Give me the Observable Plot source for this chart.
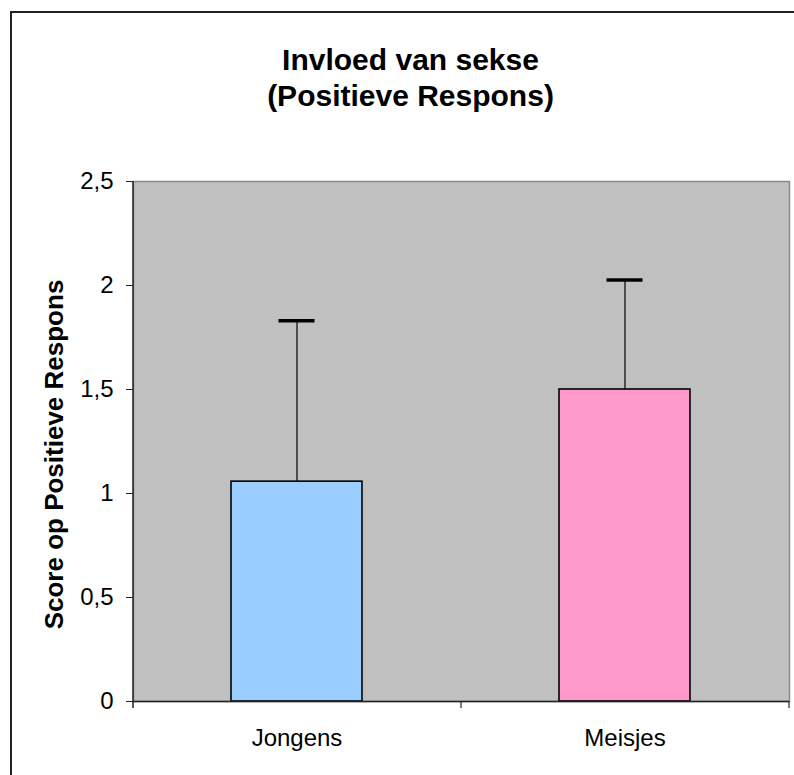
<!DOCTYPE html>
<html>
<head>
<meta charset="utf-8">
<script src="https://cdn.jsdelivr.net/npm/d3@7"></script>
<script src="https://cdn.jsdelivr.net/npm/@observablehq/plot@0.6"></script>
<style>
  html, body { margin: 0; padding: 0; background: #fff; overflow: hidden; }
  #wrap { position: relative; width: 794px; height: 775px; overflow: hidden; }
  #border { position: absolute; left: 10px; top: 11px; width: 900px; height: 900px; border: 2px solid #222; box-sizing: border-box; }
  #chart { position: absolute; left: 0; top: 0; }
  svg { font-family: "Liberation Sans", Arial, sans-serif; }
</style>
</head>
<body>
<div id="wrap"><div id="border"></div><div id="chart"></div></div>
<script>
const titleText = "Invloed van sekse\n(Positieve Respons)";
const yTitle = "Score op Positieve Respons";
const categories = ["Jongens", "Meisjes"];
const means = [1.057, 1.5];
const upper = [1.83, 2.027];
const colors = ["#99CCFF", "#FF99CC"];
const yTicks = [0, 0.5, 1, 1.5, 2, 2.5];

const data = categories.map((c, i) => ({cat: c, mean: means[i], upper: upper[i], color: colors[i]}));

const W = 794, H = 775, mL = 133, mR = 5, mT = 181, mB = 74;
const pInner = 0.6, pOuter = 0.3;
const step = (W - mL - mR) / (categories.length - pInner + 2 * pOuter);
const dark = "#222";

const chart = Plot.plot({
  width: W, height: H,
  marginLeft: mL, marginRight: mR, marginTop: mT, marginBottom: mB,
  style: {fontFamily: '"Liberation Sans", Arial, sans-serif', background: "transparent"},
  x: {domain: categories, paddingInner: pInner, paddingOuter: pOuter, label: null},
  y: {domain: [0, 2.5], label: null},
  marks: [
    Plot.frame({fill: "#C0C0C0", stroke: "#8a8a8a", strokeWidth: 1.5}),
    Plot.barY(data, {x: "cat", y: "mean", fill: "color", stroke: "#000", strokeWidth: 1.6}),
    Plot.ruleX(data, {x: "cat", y1: "mean", y2: "upper", stroke: "#000", strokeWidth: 1.2}),
    Plot.tickY(data, {x: "cat", y: "upper", stroke: "#000", strokeWidth: 3.5, insetLeft: 47.5, insetRight: 47.5}),
    Plot.ruleY([0], {stroke: dark, strokeWidth: 1.5}),
    Plot.ruleX([categories[0]], {dx: -step / 2, stroke: dark, strokeWidth: 1.5, insetBottom: -7}),
    Plot.ruleX(categories.slice(1), {dx: -step / 2, y1: 0, y2: 0, stroke: dark, strokeWidth: 1.2, insetBottom: -7}),
    Plot.ruleX([categories[categories.length - 1]], {dx: step / 2, y1: 0, y2: 0, stroke: dark, strokeWidth: 1.2, insetBottom: -7}),
    Plot.axisY({ticks: yTicks, tickFormat: d => String(d).replace(".", ","), tickSize: 7, tickPadding: 13, fontSize: 24, stroke: dark, fill: "#000", label: null}),
    Plot.axisX({tickSize: 0, tickPadding: 27, fontSize: 24, fill: "#000", label: null}),
    Plot.text([titleText], {text: d => d, frameAnchor: "top", dx: -51, dy: -136, lineAnchor: "top", lineHeight: 1.17, fontSize: 30, fontWeight: "bold", fill: "#000"}),
    Plot.text([yTitle], {text: d => d, frameAnchor: "left", textAnchor: "middle", rotate: -90, dx: -79, dy: 13, fontSize: 26, fontWeight: "bold", fill: "#000"})
  ]
});
document.getElementById("chart").appendChild(chart);
</script>
</body>
</html>
